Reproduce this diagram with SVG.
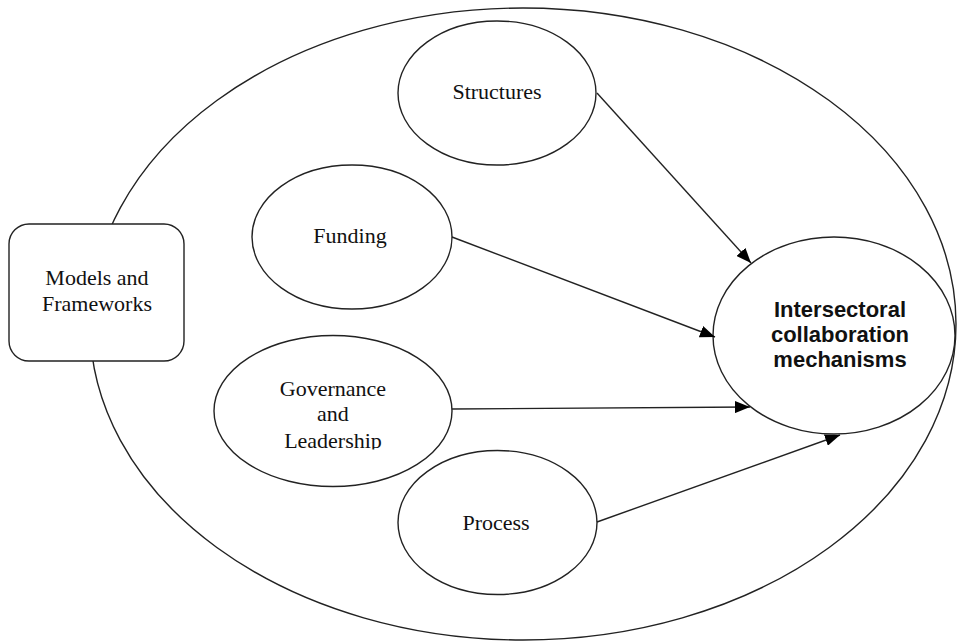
<svg xmlns="http://www.w3.org/2000/svg" width="957" height="641" viewBox="0 0 957 641">
<style>
.shape{fill:#fff;stroke:#222;stroke-width:1.4}
.t{font-family:"Liberation Serif","Times New Roman",serif;font-size:22px;fill:#111;text-anchor:middle}
.b{font-family:"Liberation Sans",Arial,sans-serif;font-size:22px;font-weight:bold;fill:#111;text-anchor:middle}
.edge{stroke:#222;stroke-width:1.4;fill:none;marker-end:url(#arr)}
</style>
<defs>
<marker id="arr" markerWidth="16" markerHeight="12" refX="15" refY="6" orient="auto" markerUnits="userSpaceOnUse">
<path d="M0,0 L15,6 L0,12 Z" fill="#000"/>
</marker>
<clipPath id="clipL"><rect x="200" y="330" width="260" height="119.5"/></clipPath>
</defs>
<g id="outer">
<ellipse class="shape" cx="523" cy="324" rx="433" ry="316"/>
</g>
<g id="models">
<rect class="shape" x="9" y="224" width="175" height="137" rx="20" ry="20"/>
<text class="t" x="97" y="285">Models and</text>
<text class="t" x="97" y="311">Frameworks</text>
</g>
<g id="structures">
<ellipse class="shape" cx="497" cy="93" rx="99" ry="72"/>
<text class="t" x="497" y="99">Structures</text>
</g>
<g id="funding">
<ellipse class="shape" cx="352" cy="237" rx="100" ry="72"/>
<text class="t" x="350" y="243">Funding</text>
</g>
<g id="governance">
<ellipse class="shape" cx="333" cy="411" rx="119" ry="75.5"/>
<text class="t" x="333" y="396">Governance</text>
<text class="t" x="333" y="421">and</text>
<text class="t" x="333" y="448" clip-path="url(#clipL)">Leadership</text>
</g>
<g id="process">
<ellipse class="shape" cx="497.5" cy="522.5" rx="99.5" ry="72"/>
<text class="t" x="496" y="530">Process</text>
</g>
<g id="target">
<ellipse class="shape" cx="834" cy="335.5" rx="121" ry="98.5"/>
<text class="b" x="840" y="317">Intersectoral</text>
<text class="b" x="840" y="342">collaboration</text>
<text class="b" x="840" y="367">mechanisms</text>
</g>
<g id="connectors">
<line class="edge" x1="597" y1="93" x2="751" y2="263"/>
<line class="edge" x1="452" y1="237" x2="715" y2="337"/>
<line class="edge" x1="452" y1="409" x2="750" y2="407"/>
<line class="edge" x1="597" y1="522" x2="840" y2="435"/>
</g>
</svg>
